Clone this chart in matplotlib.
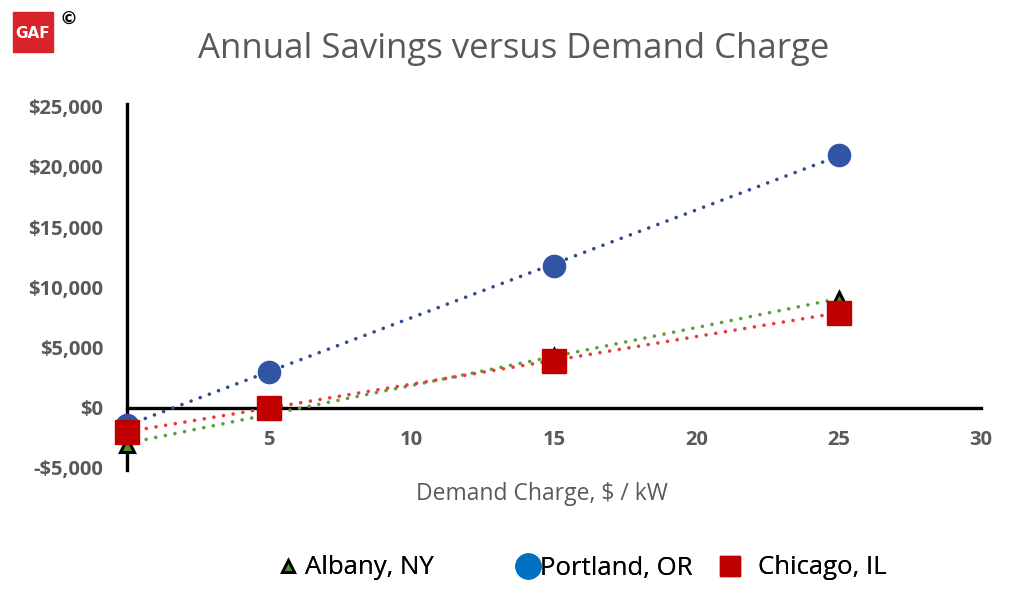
import matplotlib.pyplot as plt
import numpy as np
from matplotlib.lines import Line2D
from matplotlib.patches import Rectangle

plt.rcParams["font.family"] = ["Open Sans", "DejaVu Sans"]

demand = [0, 5, 15, 25]
albany = [-3100, -400, 4300, 9000]
portland = [-1400, 3000, 11800, 21000]
chicago = [-2000, 0, 3900, 7900]

x_ticks = [5, 10, 15, 20, 25, 30]
y_ticks = [-5000, 0, 5000, 10000, 15000, 20000, 25000]
y_labels = ["-$5,000", "$0", "$5,000", "$10,000", "$15,000", "$20,000", "$25,000"]

fig = plt.figure(figsize=(10.24, 6.1), dpi=100)
ax = fig.add_axes([0.124, 0.233, 0.834, 0.592])

# dotted linear trendlines, drawn first
trend = [
    (albany, "#5E9E3A"),
    (portland, "#2F4B8A"),
    (chicago, "#E83A3A"),
]
xs = np.array([0, 25])
for vals, col in trend:
    m, b = np.polyfit(demand, vals, 1)
    ax.plot(xs, m * xs + b, linestyle=(0, (0.01, 2.7)), color=col, lw=2.6,
            dash_capstyle="round", clip_on=False, zorder=2)

ax.plot(demand, albany, linestyle="none", marker="^", ms=10,
        mfc="#4E8F2E", mec="black", mew=2.2, clip_on=False, zorder=3)
ax.plot(demand, portland, linestyle="none", marker="o", ms=16,
        mfc="#2F55A4", mec="#2F55A4", clip_on=False, zorder=4)
ax.plot(demand, chicago, linestyle="none", marker="s", ms=17,
        mfc="#C00000", mec="#C00000", clip_on=False, zorder=5)

ax.set_xlim(0, 30)
ax.set_ylim(-5000, 25000)
for s in ["top", "right"]:
    ax.spines[s].set_visible(False)
ax.spines["left"].set_position(("data", 0))
ax.spines["bottom"].set_position(("data", 0))
ax.spines["left"].set_linewidth(2.4)
ax.spines["bottom"].set_linewidth(2.4)
ax.spines["left"].set_bounds(-5200, 25200)
ax.spines["left"].set_zorder(1)
ax.spines["bottom"].set_zorder(1)

ax.set_xticks(x_ticks)
ax.set_yticks(y_ticks)
ax.set_yticklabels(y_labels)
ax.tick_params(length=0, labelsize=14.5, labelcolor="#595959")
ax.tick_params(axis="x", pad=16)
ax.tick_params(axis="y", pad=17)
for lab in ax.get_xticklabels() + ax.get_yticklabels():
    lab.set_fontweight("bold")
ax.text(0, -1900, "0", ha="center", va="top", fontsize=14.5, fontweight="bold",
        color="#595959", zorder=1)

fig.text(0.502, 0.92, "Annual Savings versus Demand Charge", ha="center",
         va="center", fontsize=25, color="#595959")
fig.text(0.529, 0.19, "Demand Charge, $ / kW", ha="center", va="center",
         fontsize=16.5, color="#595959")

# logo
fig.patches.append(Rectangle((13 / 1024, 1 - 52 / 610), 40 / 1024, 40 / 610,
                             transform=fig.transFigure, color="#D9232A"))
fig.text(33 / 1024, 1 - 33 / 610, "GAF", ha="center", va="center",
         fontsize=11, fontweight="bold", color="white", family="DejaVu Sans")
fig.text(68 / 1024, 1 - 20 / 610, "\u00a9", ha="center", va="center",
         fontsize=13, fontweight="bold", color="black", family="DejaVu Sans")

# legend, placed item by item (Excel spaces them unevenly)
items = [
    (Line2D([], [], ls="none", marker="^", ms=9, mfc="#4E8F2E", mec="black", mew=2),
     "Albany, NY", 255, 0.25),
    (Line2D([], [], ls="none", marker="o", ms=18, mfc="#0070C0", mec="#0070C0"),
     "Portland, OR", 495, 0.05),
    (Line2D([], [], ls="none", marker="s", ms=15, mfc="#C00000", mec="#C00000"),
     "Chicago, IL", 697, 0.69),
]
for h, txt, xp, tp in items:
    leg = fig.legend([h], [txt], loc="center left",
                     bbox_to_anchor=(xp / 1024, 1 - 568 / 610), frameon=False,
                     fontsize=18.5, handletextpad=tp, handlelength=0.8)
    fig.add_artist(leg)

fig.savefig("out.png", dpi=100)
